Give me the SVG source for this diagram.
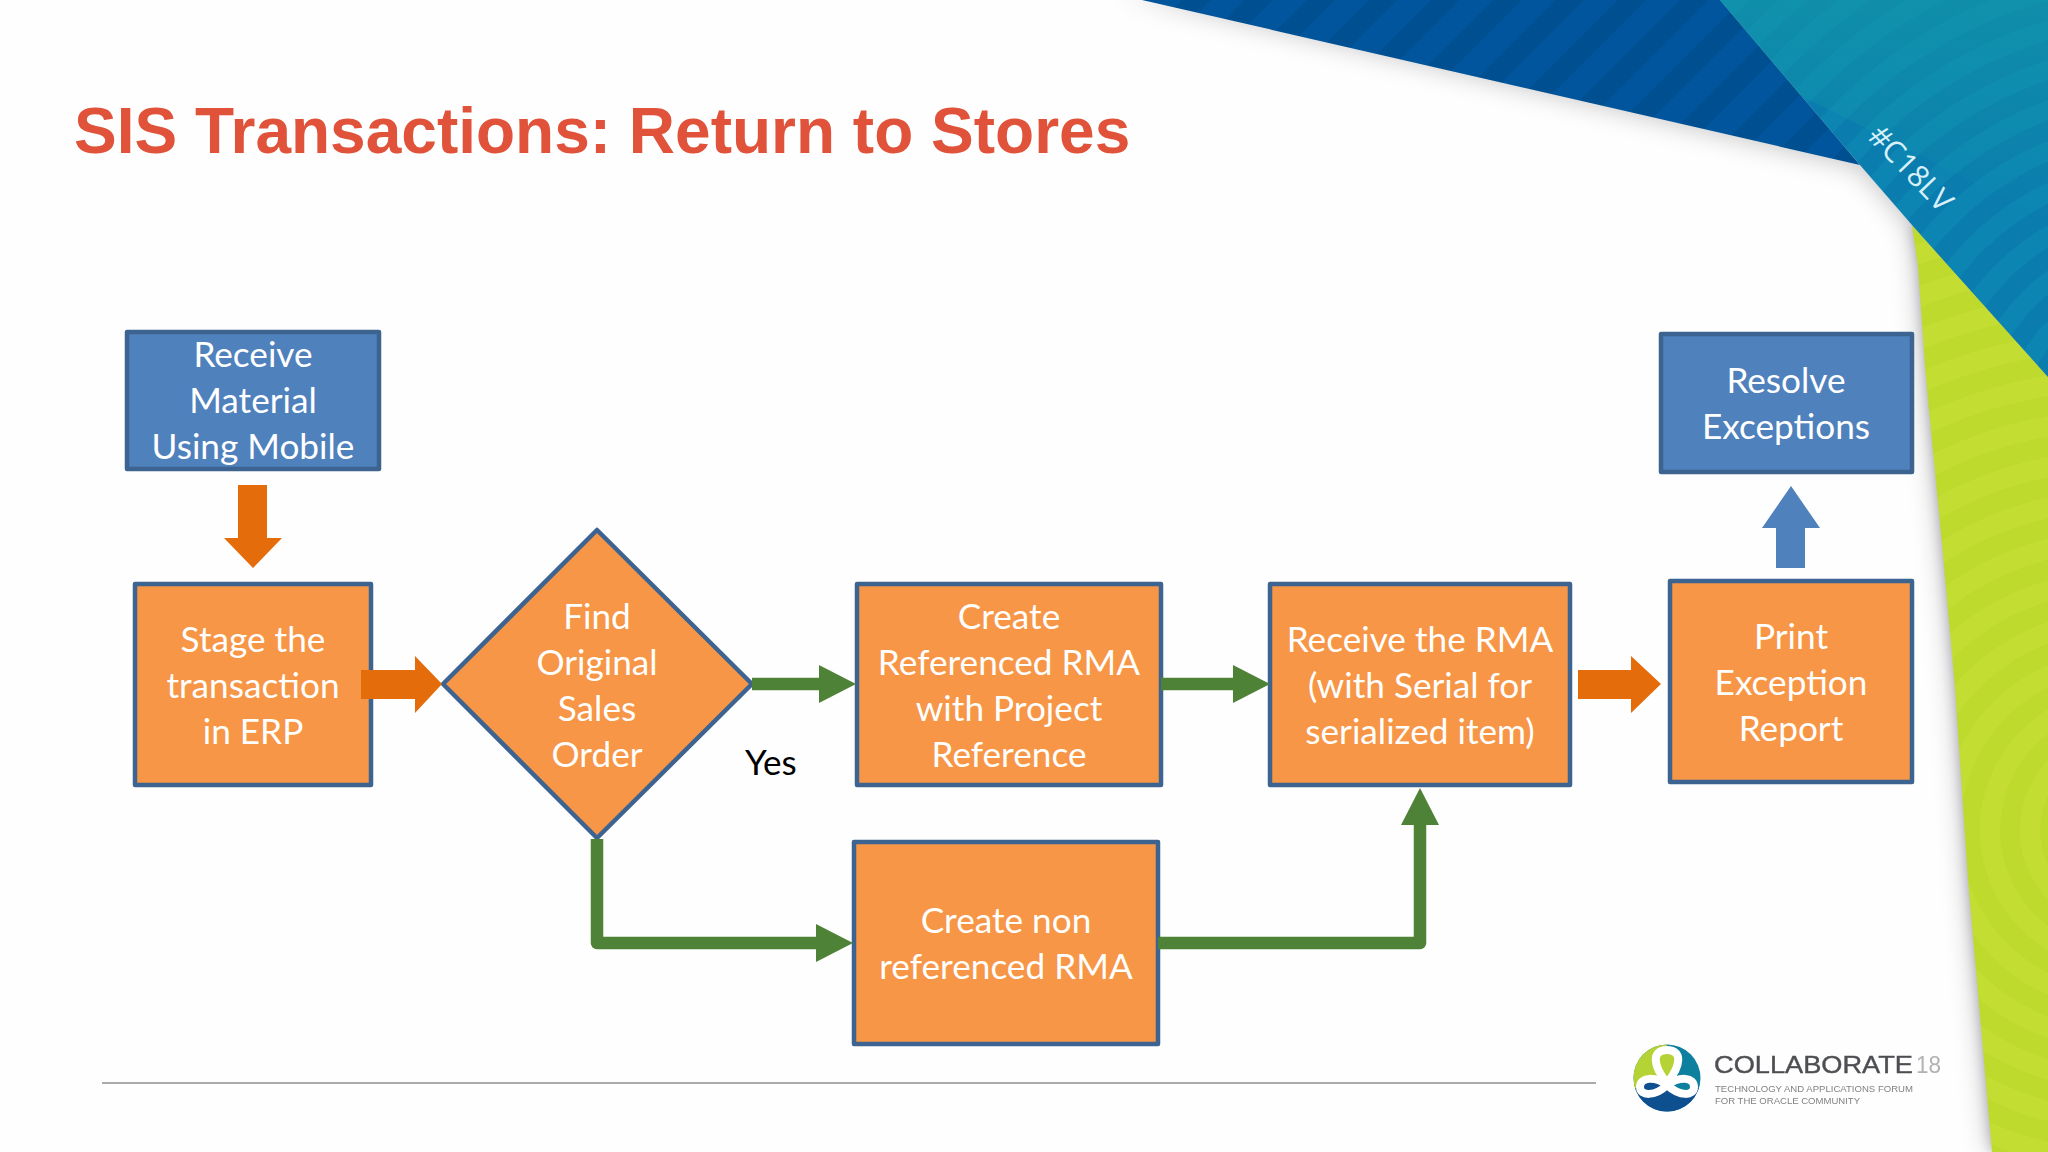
<svg xmlns="http://www.w3.org/2000/svg" width="2048" height="1152" viewBox="0 0 2048 1152">
<style>
.box{stroke:#3d6390;stroke-width:4.5;stroke-linejoin:round}
.o{fill:#f79646}
.b{fill:#4f81bd}
.t{font-family:Lato,"Open Sans",sans-serif;font-size:35.2px;fill:#fff;text-anchor:middle}
.flow{fill:none;stroke:#4e8236;stroke-width:12.5;stroke-linejoin:round}
.blk{fill:#e46c0a}
.lg{font-family:'Liberation Sans',sans-serif}
</style>
<defs>
<pattern id="pDark" width="44" height="44" patternUnits="userSpaceOnUse" patternTransform="rotate(45)"><rect width="44" height="44" fill="#00559c"/><rect width="20" height="44" fill="#004f90"/></pattern>
<radialGradient id="pTeal" gradientUnits="userSpaceOnUse" cx="2170" cy="440" r="38" spreadMethod="repeat"><stop offset="0" stop-color="#0c85b3"/><stop offset=".5" stop-color="#0c85b3"/><stop offset=".5" stop-color="#0a7cae"/><stop offset="1" stop-color="#0a7cae"/></radialGradient>
<radialGradient id="pGreen" gradientUnits="userSpaceOnUse" cx="2120" cy="830" r="40" spreadMethod="repeat"><stop offset="0" stop-color="#c3dd33"/><stop offset=".5" stop-color="#c3dd33"/><stop offset=".5" stop-color="#bedb2d"/><stop offset="1" stop-color="#bedb2d"/></radialGradient>
<linearGradient id="tealTop" x1="0" y1="0" x2="0" y2="1"><stop offset="0" stop-color="#149aa6" stop-opacity=".6"/><stop offset="1" stop-color="#149aa6" stop-opacity="0"/></linearGradient>
<filter id="soft" x="-20%" y="-20%" width="140%" height="140%"><feGaussianBlur stdDeviation="14"/></filter>
<filter id="soft2" x="-20%" y="-20%" width="140%" height="140%"><feGaussianBlur stdDeviation="6"/></filter>
<filter id="blur1" x="-5%" y="-5%" width="110%" height="110%"><feGaussianBlur stdDeviation="0.6"/></filter>
<marker id="head" markerUnits="userSpaceOnUse" markerWidth="38" markerHeight="40" refX="1" refY="20" orient="auto"><path d="M0 1L37 20L0 39Z" fill="#4e8236"/></marker>
<clipPath id="logoClip"><circle cx="1667" cy="1078" r="33.5"/></clipPath>
</defs>
<rect width="2048" height="1152" fill="#fefefe"/>
<g id="background">
<path d="M1120 -10L1860 165L1912 225L1918 267L1928 400L1942 544L1955 688L1968 880L1992 1152L2060 1152L2060 -10Z" fill="#000" opacity=".26" filter="url(#soft)"/>
<path d="M1912 225L1918 267L1928 400L1942 544L1955 688L1968 880L1992 1152L2048 1152L2048 225Z" fill="#403a60" opacity=".3" filter="url(#soft2)"/>
<path d="M1912 225L1918 267L1925 367L1928 400L1942 544L1955 688L1968 880L1992 1152L2048 1152L2048 377Z" fill="url(#pGreen)"/>
<path d="M1142 0L1720 0L1860 165Z" fill="url(#pDark)"/>
<path d="M1720 0L2048 0L2048 377L1912 225L1860 165Z" fill="url(#pTeal)"/>
<path d="M1720 0L2048 0L2048 220L1800 95Z" fill="url(#tealTop)"/>
<text transform="translate(1909 170) rotate(46)" font-family="'Open Sans',sans-serif" font-size="30" fill="#d8f1f8" text-anchor="middle" dominant-baseline="middle">#C18LV</text>
</g>
<text x="74" y="153" font-family="'Liberation Sans',Arial,sans-serif" font-weight="700" font-size="64" fill="#e0533a">SIS Transactions: Return to Stores</text>
<line x1="102" y1="1083" x2="1596" y2="1083" stroke="#8f8f8f" stroke-width="1.6"/>
<g id="n-receive"><rect class="box b" x="127" y="332" width="252" height="137"/><text class="t" x="253" y="367">Receive</text><text class="t" x="253" y="413">Material</text><text class="t" x="253" y="459">Using Mobile</text></g>
<g id="n-stage"><rect class="box o" x="135" y="584" width="236" height="201"/><text class="t" x="253" y="652">Stage the</text><text class="t" x="253" y="698">transaction</text><text class="t" x="253" y="744">in ERP</text></g>
<g id="n-find"><path class="box o" d="M597 530L752 684L597 838L443 684Z"/><text class="t" x="597" y="629">Find</text><text class="t" x="597" y="675">Original</text><text class="t" x="597" y="721">Sales</text><text class="t" x="597" y="767">Order</text></g>
<g id="n-createref"><rect class="box o" x="857" y="584" width="304" height="201"/><text class="t" x="1009" y="629">Create</text><text class="t" x="1009" y="675">Referenced RMA</text><text class="t" x="1009" y="721">with Project</text><text class="t" x="1009" y="767">Reference</text></g>
<g id="n-receiverma"><rect class="box o" x="1270" y="584" width="300" height="201"/><text class="t" x="1420" y="652">Receive the RMA</text><text class="t" x="1420" y="698">(with Serial for</text><text class="t" x="1420" y="744">serialized item)</text></g>
<g id="n-print"><rect class="box o" x="1670" y="581" width="242" height="201"/><text class="t" x="1791" y="649">Print</text><text class="t" x="1791" y="695">Exception</text><text class="t" x="1791" y="741">Report</text></g>
<g id="n-resolve"><rect class="box b" x="1661" y="334" width="251" height="138"/><text class="t" x="1786" y="393">Resolve</text><text class="t" x="1786" y="439">Exceptions</text></g>
<g id="n-createnon"><rect class="box o" x="854" y="842" width="304" height="202"/><text class="t" x="1006" y="933">Create non</text><text class="t" x="1006" y="979">referenced RMA</text></g>
<g id="connectors">
<path class="blk" d="M238 485H267V538H282L253 568L224 538H238Z"/>
<path class="blk" d="M361 670H415V656L442 684L415 713V699H361Z"/>
<path class="blk" d="M1578 670H1631V656L1661 684L1631 713V699H1578Z"/>
<path d="M1776 568V528H1762L1791 486L1820 528H1805V568Z" fill="#4f81bd"/>
<path class="flow" d="M752 684H820" marker-end="url(#head)"/>
<path class="flow" d="M1161 684H1234" marker-end="url(#head)"/>
<path class="flow" d="M597 839V943H817" marker-end="url(#head)"/>
<path class="flow" d="M1158 943H1420V824" marker-end="url(#head)"/>
</g>
<text x="745" y="775" font-family="Lato,sans-serif" font-size="35" fill="#000">Yes</text>
<g id="logo" filter="url(#blur1)">
<g clip-path="url(#logoClip)">
<rect x="1630" y="1040" width="80" height="80" fill="#0f7f9f"/>
<path d="M1667 1078L1625 1100L1625 1040L1667 1040Z" fill="#b5d334"/>
<path d="M1667 1078L1625 1092V1115H1710V1092Z" fill="#0e4f8f"/>
</g>
<path d="M1667 1083C1653 1066 1651 1050 1667 1050C1683 1050 1681 1066 1667 1083Z" fill="#b5d334" stroke="#fff" stroke-width="8"/>
<path d="M1667 1085C1655 1076 1640 1077 1640 1087C1640 1096 1655 1097 1667 1085Z" fill="#0e4f8f" stroke="#fff" stroke-width="8"/>
<path d="M1667 1085C1680 1076 1694 1077 1694 1087C1694 1096 1680 1097 1667 1085Z" fill="#0f7f9f" stroke="#fff" stroke-width="8"/>
<text class="lg" x="1714" y="1073" font-size="24" fill="#4d4f53" stroke="#4d4f53" stroke-width=".4" textLength="199" lengthAdjust="spacingAndGlyphs">COLLABORATE</text>
<text class="lg" x="1916" y="1073" font-size="24" fill="#b0b2b4" textLength="25" lengthAdjust="spacingAndGlyphs">18</text>
<text class="lg" x="1715" y="1092" font-size="9.5" fill="#808285" textLength="198" lengthAdjust="spacingAndGlyphs">TECHNOLOGY AND APPLICATIONS FORUM</text>
<text class="lg" x="1715" y="1104" font-size="9.5" fill="#808285" textLength="145" lengthAdjust="spacingAndGlyphs">FOR THE ORACLE COMMUNITY</text>
</g>
</svg>
